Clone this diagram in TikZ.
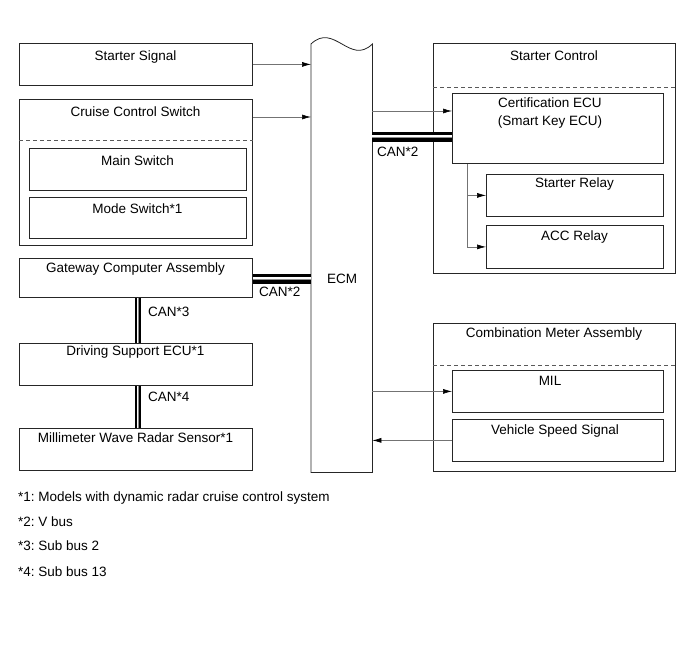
\documentclass[tikz,border=0pt]{standalone}
\usepackage{fontspec}
\setmainfont{Liberation Sans}
\usetikzlibrary{arrows.meta}
\frenchspacing

\begin{document}
\begin{tikzpicture}[x=1pt,y=-1pt,
  rim/.style={draw=black!85, line width=0.8pt},
  unit/.style={rim, anchor=north west, inner sep=0pt},
  lbl/.style={font=\fontsize{13.5}{18}\selectfont, inner sep=0pt, align=center},
  sep/.style={draw=black!65, line width=0.7pt, dash pattern=on 4pt off 3pt},
  sig/.style={draw=black!55, line width=0.6pt, -{Latex[length=9pt,width=5pt,color=black]}},
  can/.style={draw=white, line width=3pt, preaction={draw=black, line width=9.5pt}, postaction={draw=black!45, line width=0.4pt}},
  canv/.style={draw=white, line width=2.2pt, preaction={draw=black, line width=6pt}, postaction={draw=black!45, line width=0.4pt}}]
\useasboundingbox (0,0) rectangle (691,660);
\def\colL{135.5};
% left column
\node[unit, minimum width=233pt, minimum height=42pt] (sig) at (19,43) {};
\node[lbl] (sigT) at (\colL,57) {Starter Signal};
\node[unit, minimum width=233pt, minimum height=146pt] (cru) at (19,99) {};
\node[lbl] (cruT) at (\colL,112) {Cruise Control Switch};
\node[unit, minimum width=217pt, minimum height=42pt] (msw) at (29,148) {};
\node[lbl] (mswT) at (137.5,161) {Main Switch};
\node[unit, minimum width=217pt, minimum height=41pt] (mdsw) at (29,197) {};
\node[lbl] (mdswT) at (137.5,209) {Mode Switch*1};
\node[unit, minimum width=233pt, minimum height=39pt] (gw) at (19,258) {};
\node[lbl] (gwT) at (\colL,269) {Gateway Computer Assembly};
\node[unit, minimum width=233pt, minimum height=42pt] (dse) at (19,343) {};
\node[lbl] (dseT) at (\colL,352) {Driving Support ECU*1};
\node[unit, minimum width=233pt, minimum height=42pt] (mwr) at (19,428) {};
\node[lbl] (mwrT) at (\colL,438) {Millimeter Wave Radar Sensor*1};
\draw[sep] (cru.west |- 0,140) -- (cru.east |- 0,140);
% ECM
\node[inner sep=0pt, anchor=north west, minimum width=61pt, minimum height=428pt] (ecm) at (311,44) {};
\draw[rim] (ecm.north west) .. controls (334,22) and (350,66) .. (ecm.north east) -- (ecm.south east) -- (ecm.south west) -- cycle;
\node[lbl] (ecmT) at (342,279) {ECM};
% right column
\node[unit, minimum width=242pt, minimum height=230pt] (stc) at (433,43) {};
\node[lbl] (stcT) at (554,56) {Starter Control};
\node[unit, minimum width=211pt, minimum height=70pt] (cert) at (452,93) {};
\node[lbl] (certT) at (550,113) {Certification ECU\\(Smart Key ECU)};
\node[unit, minimum width=177pt, minimum height=42pt] (srel) at (486,174) {};
\node[lbl] (srelT) at (574.5,184) {Starter Relay};
\node[unit, minimum width=177pt, minimum height=43pt] (acc) at (486,225) {};
\node[lbl] (accT) at (574.5,237) {ACC Relay};
\node[unit, minimum width=242pt, minimum height=148pt] (cma) at (433,323) {};
\node[lbl] (cmaT) at (554,334) {Combination Meter Assembly};
\node[unit, minimum width=211pt, minimum height=42pt] (mil) at (452,370) {};
\node[lbl] (milT) at (550,381) {MIL};
\node[unit, minimum width=211pt, minimum height=42pt] (vss) at (452,419) {};
\node[lbl] (vssT) at (555,431) {Vehicle Speed Signal};
\draw[sep] (stc.west |- 0,87) -- (stc.east |- 0,87);
\draw[sep] (cma.west |- 0,365) -- (cma.east |- 0,365);
% signals
\draw[sig] (sig.east) -- (sig.east -| ecm.west);
\draw[sig] (cru.east |- 0,117) -- (ecm.west |- 0,117);
\draw[sig] (ecm.east |- 0,111) -- (cert.west |- 0,111);
\draw[sig] (cert.south -| 467,0) |- (srel.west);
\draw[sig] (cert.south -| 467,0) |- (acc.west);
\draw[sig] (mil.west -| ecm.east) -- (mil.west);
\draw[sig] (vss.west) -- (vss.west -| ecm.east);
% CAN lines
\draw[can] (ecm.east |- 0,137) -- (cert.west |- 0,137);
\node[lbl, anchor=west] (can2b) at (377,152) {CAN*2};
\draw[can] (gw.east |- 0,279) -- (ecm.west |- 0,279);
\node[lbl, anchor=west] (can2a) at (259,292) {CAN*2};
\draw[canv] (gw.south -| 138,0) -- (dse.north -| 138,0);
\node[lbl, anchor=west] (can3) at (148,312) {CAN*3};
\draw[canv] (dse.south -| 138,0) -- (mwr.north -| 138,0);
\node[lbl, anchor=west] (can4) at (148,397) {CAN*4};
% notes
\node[lbl, anchor=west] (fn1) at (18,498) {*1: Models with dynamic radar cruise control system};
\node[lbl, anchor=west] (fn2) at (18,522) {*2: V bus};
\node[lbl, anchor=west] (fn3) at (18,546) {*3: Sub bus 2};
\node[lbl, anchor=west] (fn4) at (18,572) {*4: Sub bus 13};
\end{tikzpicture}
\end{document}
